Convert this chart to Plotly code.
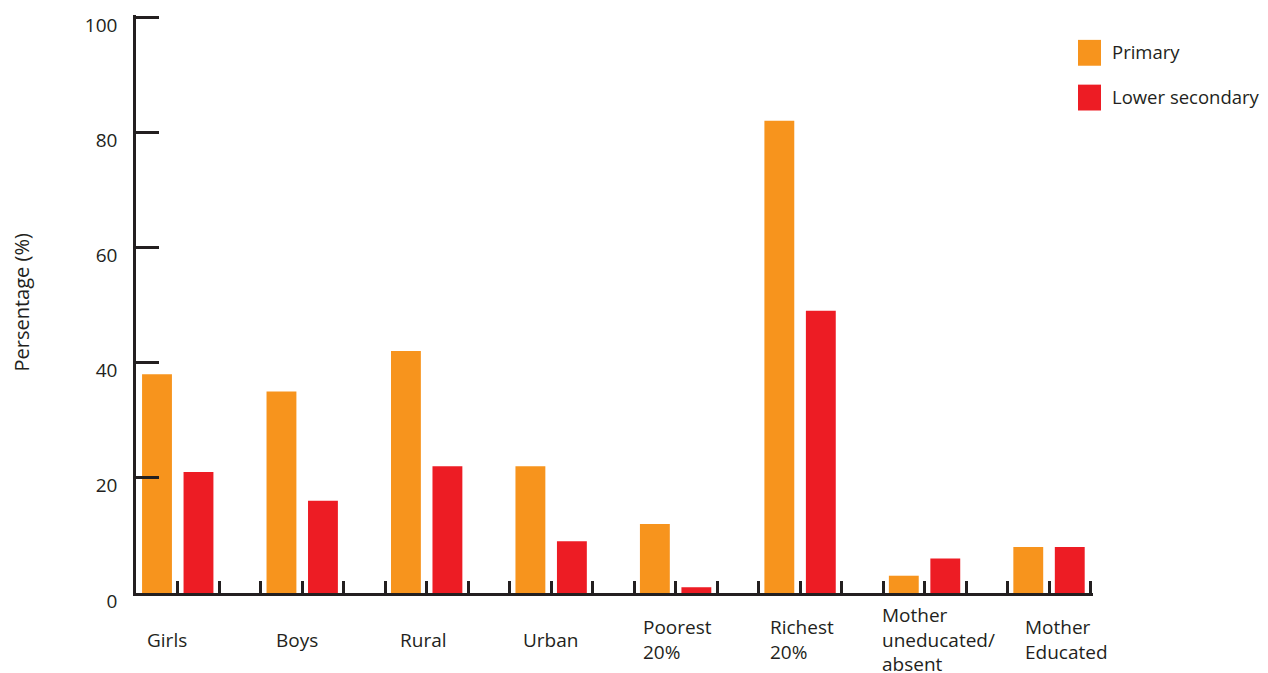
import plotly.graph_objects as go

categories = ["Girls", "Boys", "Rural", "Urban", "Poorest<br>20%", "Richest<br>20%",
              "Mother<br>uneducated/<br>absent", "Mother<br>Educated"]
primary = [38, 35, 42, 22, 12, 82, 3, 8]
lower_secondary = [21, 16, 22, 9, 1, 49, 6, 8]
y_ticks = [0, 20, 40, 60, 80, 100]
series_names = ["Primary", "Lower secondary"]

# layout helpers (not data); page body has an 8px margin
OFF = 8
W, H = 1268 - OFF, 673 - OFF
ML, MR, MT, MB = 136 - OFF, 175, 12 - OFF, 80
PW, PH = W - ML - MR, H - MT - MB
label_dx = [-0.26, -0.23, -0.23, -0.24, -0.28, -0.26, -0.36, -0.21]

ORANGE = "#F7941D"
RED = "#ED1C24"
INK = "#231F20"
FONT = "Open Sans"

def px_x(p):
    # p is a pixel position in the screenshot
    return (p - OFF - ML) / PW

def px_y(p):
    return (H - MB - (p - OFF)) / PH

xs = list(range(len(categories)))

fig = go.Figure()
fig.add_trace(go.Bar(x=xs, y=primary, name=series_names[0], marker_color=ORANGE,
                     marker_line_width=0, showlegend=False))
fig.add_trace(go.Bar(x=xs, y=lower_secondary, name=series_names[1], marker_color=RED,
                     marker_line_width=0, showlegend=False))

annotations = []
for i, (c, dx) in enumerate(zip(categories, label_dx)):
    annotations.append(dict(x=i + dx, y=px_y(640), xref="x", yref="paper", text=c,
                            showarrow=False, xanchor="left", yanchor="middle", align="left",
                            font=dict(family=FONT, size=19, color=INK)))

annotations.append(dict(x=px_x(22), y=px_y(301), xref="paper", yref="paper",
                        text="Persentage (%)", textangle=-90, showarrow=False,
                        xanchor="center", yanchor="middle",
                        font=dict(family=FONT, size=20, color=INK)))

shapes = []
legend_colors = [ORANGE, RED]
legend_tops = [37, 82]
for name, col, top in zip(series_names, legend_colors, legend_tops):
    shapes.append(dict(type="rect", xref="paper", yref="paper",
                       x0=px_x(1078), x1=px_x(1101), y0=px_y(top + 26), y1=px_y(top),
                       fillcolor=col, line_width=0))
    annotations.append(dict(x=px_x(1110), y=px_y(top + 12), xref="paper", yref="paper",
                            text=name, showarrow=False, xanchor="left", yanchor="middle",
                            font=dict(family=FONT, size=18.5, color=INK)))

fig.update_layout(
    width=W, height=H,
    margin=dict(l=ML, r=MR, t=MT, b=MB, pad=0),
    paper_bgcolor="white", plot_bgcolor="white",
    barmode="group", bargap=1/3, bargroupgap=0.28,
    font=dict(family=FONT, size=19, color=INK),
    annotations=annotations, shapes=shapes,
    showlegend=False,
)
fig.update_xaxes(range=[-1/3 - 0.002, len(categories) - 2/3 + 0.02], showgrid=False,
                 zeroline=False, showline=True, linecolor=INK, linewidth=2.5,
                 tickmode="linear", tick0=0, dtick=1/3, ticks="inside", ticklen=12,
                 tickwidth=2.5, tickcolor=INK, showticklabels=False)
fig.update_yaxes(range=[0, 100.35], showgrid=False, zeroline=False,
                 showline=True, linecolor=INK, linewidth=2.5,
                 tickmode="array", tickvals=y_ticks, ticktext=[str(v) for v in y_ticks],
                 ticks="inside", ticklen=23, tickwidth=2.5, tickcolor=INK,
                 ticklabelstandoff=12, ticklabelshift=8,
                 tickfont=dict(family=FONT, size=19, color=INK))

fig.write_html("out.html")
